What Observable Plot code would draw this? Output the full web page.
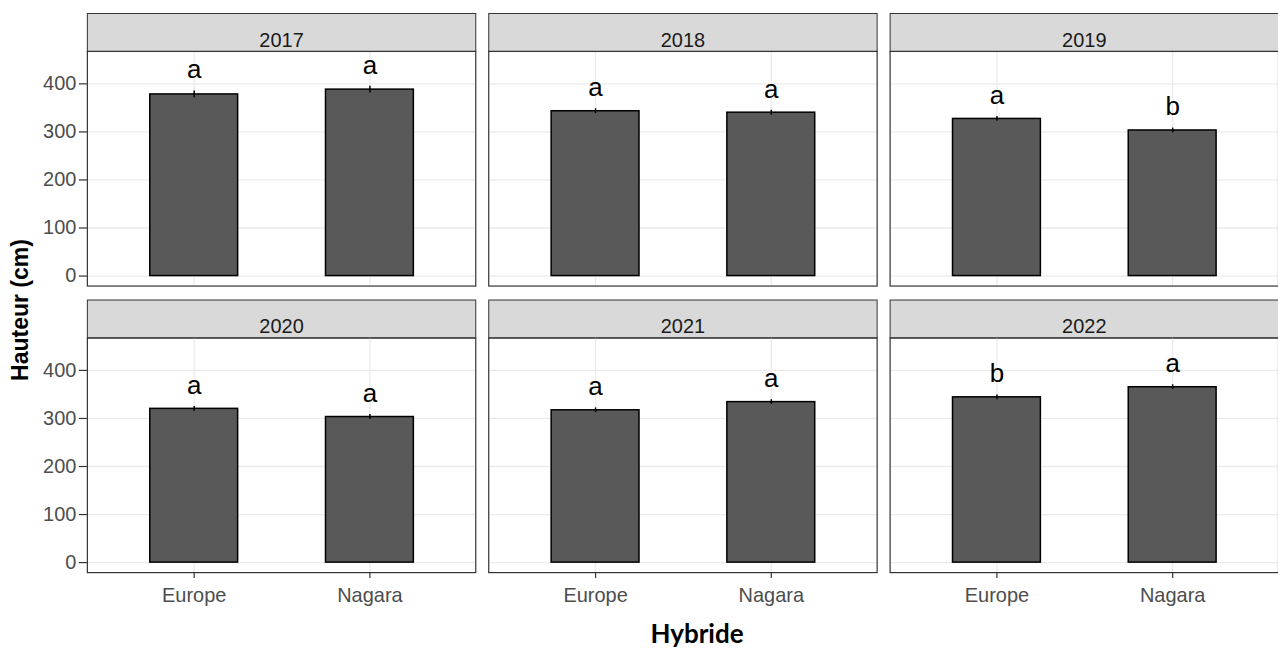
<!DOCTYPE html>
<html>
<head>
<meta charset="utf-8">
<script src="https://cdn.jsdelivr.net/npm/d3@7"></script>
<script src="https://cdn.jsdelivr.net/npm/@observablehq/plot@0.6"></script>
<style>
  html, body { margin: 0; padding: 0; background: #fff; overflow: hidden; }
  #wrap { position: relative; width: 1278px; height: 648px; overflow: hidden; }
  #chart svg { display: block; }
  .ytitle {
    position: absolute; left: 20px; top: 310px;
    transform: translate(-50%, -50%) rotate(-90deg);
    font-family: "Liberation Sans", Arial, sans-serif; font-weight: bold; font-size: 23px;
    color: #000; white-space: nowrap; line-height: 1;
  }
  .xtitle {
    position: absolute; left: 0; top: 619px; width: 1394px; height: 29px;
    text-align: center; line-height: 29px;
    font-family: Lato, "Open Sans", sans-serif; font-weight: bold; font-size: 26px; color: #000;
  }
</style>
</head>
<body>
<div id="wrap">
  <div id="chart"></div>
  <div class="ytitle">Hauteur (cm)</div>
  <div class="xtitle">Hybride</div>
</div>
<script>
// Mean plant height (cm) per hybrid and year, with standard error and
// the significance group letter from the mean comparison.
const years = ["2017", "2018", "2019", "2020", "2021", "2022"];
const hybrids = ["Europe", "Nagara"];
const europeHeight = [378, 343, 327, 320, 317, 344];
const nagaraHeight = [388, 340, 303, 303, 334, 365];
const europeSE = [7, 5, 5, 5, 5, 5];
const nagaraSE = [7, 5, 5, 5, 5, 5];
const europeGroup = ["a", "a", "a", "a", "a", "b"];
const nagaraGroup = ["a", "a", "b", "a", "a", "a"];
const yTicks = [0, 100, 200, 300, 400];

// Facet grid: three columns, two rows
const panels = years.map((year, i) => ({year, col: i % 3, row: Math.floor(i / 3)}));
const rows = panels.flatMap(({year, col, row}, i) => [
  {year, col, row, hybrid: hybrids[0], height: europeHeight[i], se: europeSE[i], group: europeGroup[i]},
  {year, col, row, hybrid: hybrids[1], height: nagaraHeight[i], se: nagaraSE[i], group: nagaraGroup[i]}
]);

const panelH = 235;   // height of each panel (px)
const stripH = 38;    // height of the facet strip above each panel (px)
const panelGap = 13;  // horizontal gap between panels (px)
const rowGap = 52;    // vertical gap between panel rows, strip included (px)
const panelW = 389;

const chart = Plot.plot({
  width: 1280,
  height: 619,
  marginLeft: 87,
  marginRight: 0,
  marginTop: 51,
  marginBottom: 46,
  style: {fontFamily: "'Liberation Sans', Arial, sans-serif", background: "white", overflow: "visible"},
  fx: {axis: null, paddingInner: panelGap / (panelW + panelGap), paddingOuter: 0},
  fy: {axis: null, paddingInner: rowGap / (panelH + rowGap), paddingOuter: 0},
  x: {type: "band", domain: hybrids, paddingInner: 0.5, paddingOuter: 0.349},
  y: {domain: [-20.8, 467.5]},
  marks: [
    // strip backgrounds and titles
    Plot.frame({fill: "#D9D9D9", stroke: "#333333", strokeWidth: 1, insetTop: -stripH, insetBottom: panelH}),
    Plot.text(panels, {fx: "col", fy: "row", text: "year", frameAnchor: "top", dy: -stripH / 2, fontSize: 20, fill: "#1A1A1A"}),
    // grid
    Plot.gridY(yTicks, {stroke: "#EBEBEB", strokeOpacity: 1, strokeWidth: 1.3}),
    Plot.gridX(hybrids, {stroke: "#EBEBEB", strokeOpacity: 1, strokeWidth: 1.3}),
    // bars, error bars and group letters
    Plot.barY(rows, {fx: "col", fy: "row", x: "hybrid", y: "height", fill: "#595959", stroke: "black", strokeWidth: 1.5}),
    Plot.ruleX(rows, {fx: "col", fy: "row", x: "hybrid", y1: (d) => d.height - d.se, y2: (d) => d.height + d.se, stroke: "black", strokeWidth: 1.5}),
    Plot.text(rows, {fx: "col", fy: "row", x: "hybrid", y: (d) => d.height + d.se, text: "group", dy: -21, fontSize: 26, fill: "black"}),
    // axes
    Plot.axisY(yTicks, {tickSize: 8, tickPadding: 3, stroke: "#333333", strokeWidth: 1.2, fill: "#4D4D4D", fontSize: 20, label: null}),
    Plot.axisX({tickSize: 6, tickPadding: 9, stroke: "#333333", strokeWidth: 1.2, fill: "#4D4D4D", fontSize: 20, label: null}),
    // panel borders
    Plot.frame({stroke: "#333333", strokeWidth: 1.2})
  ]
});

document.getElementById("chart").appendChild(chart);
</script>
</body>
</html>
